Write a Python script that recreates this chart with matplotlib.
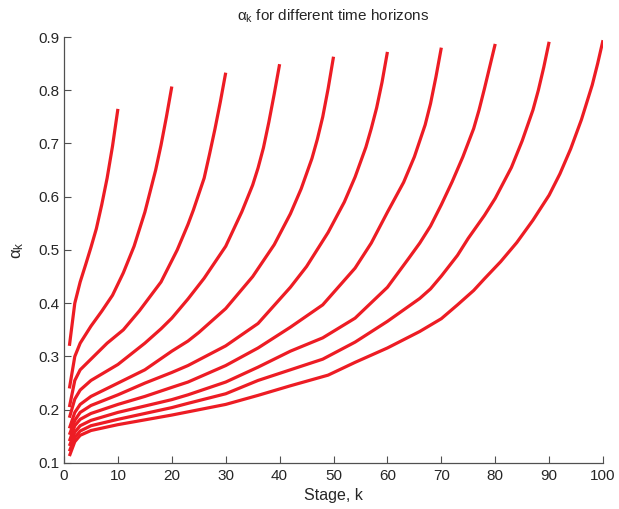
import matplotlib
matplotlib.use("Agg")
import matplotlib.pyplot as plt

plt.rcParams['font.family'] = ['Liberation Sans', 'DejaVu Sans']
plt.rcParams['mathtext.fontset'] = 'custom'
plt.rcParams['mathtext.rm'] = 'Liberation Sans'
plt.rcParams['mathtext.it'] = 'Liberation Sans'
plt.rcParams['mathtext.default'] = 'regular'

# values, one stage list + alpha list per horizon
stages_10 = [1, 2, 3, 4, 5, 6, 7, 8, 9, 10]
alpha_10 = [0.32, 0.40, 0.44, 0.472, 0.505, 0.54, 0.585, 0.635, 0.695, 0.765]

stages_20 = [1, 2, 3, 5, 7, 9, 11, 13, 15, 17, 18, 19, 20]
alpha_20 = [0.24, 0.30, 0.325, 0.357, 0.385, 0.415, 0.457, 0.507, 0.571, 0.65, 0.697, 0.75, 0.807]

stages_30 = [1, 2, 3, 5, 8, 11, 14, 18, 21, 23, 24, 26, 27, 28, 29, 30]
alpha_30 = [0.205, 0.255, 0.275, 0.295, 0.325, 0.35, 0.386, 0.44, 0.5, 0.548, 0.575, 0.635, 0.68, 0.727, 0.778, 0.833]

stages_40 = [1, 2, 3, 5, 10, 15, 18, 20, 23, 26, 30, 33, 35, 36, 37, 38, 39, 40]
alpha_40 = [0.185, 0.22, 0.237, 0.255, 0.285, 0.325, 0.352, 0.372, 0.408, 0.447, 0.507, 0.572, 0.622, 0.654, 0.692, 0.74, 0.793, 0.849]

stages_50 = [1, 2, 3, 5, 10, 15, 20, 23, 25, 30, 35, 39, 42, 44, 46, 47, 48, 49, 50]
alpha_50 = [0.165, 0.195, 0.21, 0.225, 0.25, 0.275, 0.31, 0.329, 0.345, 0.39, 0.45, 0.51, 0.568, 0.615, 0.672, 0.708, 0.75, 0.803, 0.863]

stages_60 = [1, 2, 3, 5, 10, 15, 20, 23, 30, 36, 42, 45, 49, 52, 54, 56, 57, 58, 59, 60]
alpha_60 = [0.153, 0.18, 0.195, 0.208, 0.228, 0.25, 0.27, 0.283, 0.32, 0.362, 0.43, 0.469, 0.533, 0.59, 0.637, 0.693, 0.728, 0.767, 0.815, 0.872]

stages_70 = [1, 2, 3, 5, 10, 15, 20, 23, 30, 36, 42, 48, 54, 57, 60, 63, 65, 67, 68, 69, 70]
alpha_70 = [0.141, 0.17, 0.182, 0.193, 0.21, 0.225, 0.242, 0.252, 0.283, 0.316, 0.355, 0.397, 0.466, 0.513, 0.571, 0.627, 0.675, 0.735, 0.775, 0.825, 0.88]

stages_80 = [1, 2, 3, 5, 10, 15, 20, 23, 30, 36, 42, 48, 54, 60, 64, 66, 68, 70, 72, 74, 76, 77, 78, 79, 80]
alpha_80 = [0.132, 0.158, 0.17, 0.18, 0.195, 0.207, 0.219, 0.228, 0.252, 0.28, 0.31, 0.335, 0.372, 0.43, 0.485, 0.513, 0.545, 0.585, 0.628, 0.675, 0.728, 0.763, 0.803, 0.845, 0.887]

stages_90 = [1, 2, 3, 5, 10, 15, 20, 23, 30, 36, 42, 48, 54, 60, 66, 68, 70, 73, 75, 78, 80, 83, 85, 87, 88, 89, 90]
alpha_90 = [0.122, 0.148, 0.16, 0.17, 0.182, 0.193, 0.204, 0.212, 0.23, 0.255, 0.275, 0.295, 0.327, 0.366, 0.409, 0.427, 0.451, 0.49, 0.522, 0.565, 0.597, 0.655, 0.705, 0.763, 0.8, 0.843, 0.891]

stages_100 = [1, 2, 3, 5, 10, 15, 20, 23, 30, 36, 42, 49, 54, 60, 66, 70, 73, 76, 78, 81, 84, 87, 90, 92, 94, 96, 98, 99, 100]
alpha_100 = [0.113, 0.14, 0.152, 0.161, 0.172, 0.181, 0.19, 0.196, 0.21, 0.227, 0.245, 0.265, 0.289, 0.316, 0.347, 0.371, 0.397, 0.424, 0.446, 0.478, 0.514, 0.556, 0.603, 0.643, 0.69, 0.745, 0.81, 0.85, 0.894]

curves = [
    (stages_10, alpha_10), (stages_20, alpha_20), (stages_30, alpha_30),
    (stages_40, alpha_40), (stages_50, alpha_50), (stages_60, alpha_60),
    (stages_70, alpha_70), (stages_80, alpha_80), (stages_90, alpha_90),
    (stages_100, alpha_100),
]

x_ticks = [0, 10, 20, 30, 40, 50, 60, 70, 80, 90, 100]
y_ticks = [0.1, 0.2, 0.3, 0.4, 0.5, 0.6, 0.7, 0.8, 0.9]

fig = plt.figure(figsize=(6.19, 5.09), dpi=100)
ax = fig.add_axes([0.1034, 0.0904, 0.8708, 0.8369])

for k, a in curves:
    ax.plot(k, a, color='#ed1c24', linewidth=2.3, solid_capstyle='butt',
            solid_joinstyle='round')

ax.set_xlim(0, 100)
ax.set_ylim(0.1, 0.9)
ax.set_xticks(x_ticks)
ax.set_yticks(y_ticks)
ax.set_yticklabels([f'{v:.1f}' for v in y_ticks])

for side in ['top', 'right']:
    ax.spines[side].set_visible(False)
for side in ['left', 'bottom']:
    ax.spines[side].set_color('#505050')
    ax.spines[side].set_linewidth(0.9)

ax.tick_params(direction='in', length=5, width=0.8, color='#505050',
               labelsize=11, labelcolor='#262626', pad=3)
ax.tick_params(axis='x', pad=4)

ax.set_title(r'$\alpha_k$ for different time horizons', fontsize=11, color='#262626', pad=12)
ax.set_xlabel('Stage, k', fontsize=11.5, color='#262626', labelpad=4)
ax.set_ylabel(r'$\alpha_k$', fontsize=12, color='#262626', labelpad=9)

fig.savefig('out.png', dpi=100)
